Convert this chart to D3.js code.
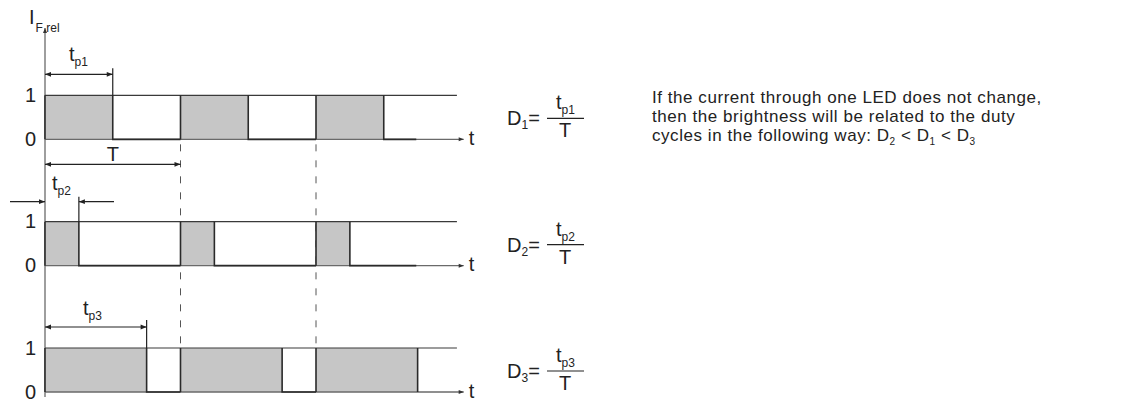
<!DOCTYPE html>
<html lang="en">
<head>
  <meta charset="UTF-8">
  <title>PWM duty cycles</title>
  <script src="https://d3js.org/d3.v7.min.js"></script>
  <style>
    body { margin: 0; background: #fff; }
    svg { display: block; font-family: "Liberation Sans", Arial, Helvetica, sans-serif; }
    .pulse { fill: #c6c6c6; }
    .edge { stroke: #2a2a2a; stroke-width: 1.6; fill: none; }
    .axis-line { stroke: #6a6a6a; stroke-width: 1.3; fill: none; }
    .hi-line { stroke: #3a3a3a; stroke-width: 1.1; }
    .dim { stroke: #222; stroke-width: 1.2; fill: none; }
    .dash { stroke: #555; stroke-width: 1; stroke-dasharray: 7 9; }
  </style>
</head>
<body>
<svg width="1121" height="401"></svg>
<script>
  // one period T = 1, three rows of pulses
  const periods = [0, 1, 2];
  const duties = [0.5, 0.25, 0.75];           // tp1/T, tp2/T, tp3/T
  const rowNames = ["1", "2", "3"];
  const levelLabels = ["0", "1"];
  const signalEnd = 2.74;
  const hiLineEnd = 3.04;
  const axisEnd = 3.09;
  const noteLines = [
    "If the current through one LED does not change,",
    "then the brightness will be related to the duty",
    "cycles in the following way: "
  ];

  const svg = d3.select("svg");
  const defs = svg.append("defs");
  defs.append("marker").attr("id", "ah")
    .attr("viewBox", "0 0 10 10").attr("refX", 10).attr("refY", 5)
    .attr("markerWidth", 13).attr("markerHeight", 6).attr("markerUnits", "userSpaceOnUse")
    .attr("orient", "auto-start-reverse")
    .append("path").attr("d", "M0,1 L10,5 L0,9 Z").attr("fill", "#222");
  defs.append("marker").attr("id", "ahs")
    .attr("viewBox", "0 0 10 10").attr("refX", 10).attr("refY", 5)
    .attr("markerWidth", 8).attr("markerHeight", 5).attr("markerUnits", "userSpaceOnUse")
    .attr("orient", "auto")
    .append("path").attr("d", "M0,1 L10,5 L0,9 Z").attr("fill", "#333");

  const x = d3.scaleLinear().domain([0, 1]).range([45, 180.5]);
  const row = d3.scaleBand().domain(rowNames).range([13, 392]).paddingInner(0).paddingOuter(0);
  // level 0 sits at the bottom of each band
  const rowBase = r => row(r) + row.bandwidth();
  const level = d3.scaleLinear().domain([0, 1]).range([0, -44]);

  const F = "20px", FS = "12px";

  // vertical y axis
  svg.append("line").attr("class", "axis-line")
    .attr("x1", x(0)).attr("x2", x(0)).attr("y1", rowBase("3") + 5).attr("y2", 28)
    .attr("marker-end", "url(#ahs)");
  const yl = svg.append("text").attr("x", 29).attr("y", 24).attr("fill", "#222").style("font-size", F);
  yl.append("tspan").text("I");
  yl.append("tspan").attr("dx", 1).attr("dy", 8).style("font-size", FS).text("F rel");

  // dashed period lines
  [1, 2].forEach(p => {
    svg.append("line").attr("class", "dash")
      .attr("x1", x(p)).attr("x2", x(p))
      .attr("y1", rowBase("1") + 5).attr("y2", rowBase("3") + level(1));
  });

  rowNames.forEach((r, i) => {
    const base = rowBase(r);
    const tp = duties[i];
    const g = svg.append("g").attr("transform", `translate(0,${base})`);

    // gray pulses
    g.selectAll("rect").data(periods).join("rect").attr("class", "pulse")
      .attr("x", d => x(d)).attr("y", level(1))
      .attr("width", d => x(d + tp) - x(d)).attr("height", level(0) - level(1));

    // reference "1" line and time axis
    g.append("line").attr("class", "hi-line")
      .attr("x1", x(0)).attr("x2", x(hiLineEnd)).attr("y1", level(1)).attr("y2", level(1));
    g.append("line").attr("class", "axis-line")
      .attr("x1", x(0)).attr("x2", x(axisEnd)).attr("y1", level(0)).attr("y2", level(0))
      .attr("marker-end", "url(#ahs)");

    // signal edges
    let d = "";
    periods.forEach(p => {
      d += `M${x(p)},${level(0)}V${level(1)}M${x(p + tp)},${level(1)}V${level(0)}`;
      const lowEnd = Math.min(p + 1, signalEnd);
      if (p + tp < lowEnd) d += `H${x(lowEnd)}`;
    });
    g.append("path").attr("class", "edge").attr("d", d);

    // level labels
    g.selectAll("text.lv").data(levelLabels).join("text").attr("class", "lv")
      .attr("x", 36).attr("y", v => level(+v) + 6.5).attr("text-anchor", "end")
      .attr("fill", "#222").style("font-size", F).text(v => v);
    g.append("text").attr("x", x(axisEnd) + 5).attr("y", level(0) + 5.5)
      .attr("fill", "#222").style("font-size", F).text("t");

    // formula D = tp / T
    const fx = 507, fy = level(0) - 21;
    const dt = g.append("text").attr("x", fx).attr("y", fy + 7).attr("fill", "#222").style("font-size", F);
    dt.append("tspan").text("D");
    dt.append("tspan").attr("dy", 4).style("font-size", FS).text(r);
    dt.append("tspan").attr("dy", -4).text("=");
    g.append("line").attr("x1", 547).attr("x2", 584).attr("y1", fy).attr("y2", fy)
      .attr("stroke", "#222").attr("stroke-width", 1.2);
    const nt = g.append("text").attr("x", 556).attr("y", fy - 9).attr("fill", "#222").style("font-size", F);
    nt.append("tspan").text("t");
    nt.append("tspan").attr("dy", 5).style("font-size", FS).text("p" + r);
    g.append("text").attr("x", 565).attr("y", fy + 19).attr("text-anchor", "middle")
      .attr("fill", "#222").style("font-size", F).text("T");
  });

  // tp dimension arrows
  function tpLabel(cx, by, r) {
    const t = svg.append("text").attr("x", cx).attr("y", by).attr("fill", "#222").style("font-size", F);
    t.append("tspan").text("t");
    t.append("tspan").attr("dy", 5).style("font-size", FS).text("p" + r);
  }
  // row 1
  {
    const b = rowBase("1"), tp = duties[0], ay = b + level(1) - 21;
    svg.append("line").attr("class", "dim").attr("x1", x(tp)).attr("x2", x(tp)).attr("y1", ay - 6).attr("y2", b + level(1));
    svg.append("line").attr("class", "dim").attr("x1", x(0)).attr("x2", x(tp))
      .attr("y1", ay).attr("y2", ay).attr("marker-start", "url(#ah)").attr("marker-end", "url(#ah)");
    tpLabel(69, ay - 13, "1");
    // period T
    const ty = b + 25;
    svg.append("line").attr("class", "dim").attr("x1", x(0)).attr("x2", x(1))
      .attr("y1", ty).attr("y2", ty).attr("marker-start", "url(#ah)").attr("marker-end", "url(#ah)");
    svg.append("text").attr("x", x(0.5)).attr("y", ty - 3).attr("text-anchor", "middle")
      .attr("fill", "#222").style("font-size", F).text("T");
  }
  // row 2 (arrows from outside)
  {
    const b = rowBase("2"), tp = duties[1], ay = b + level(1) - 20;
    svg.append("line").attr("class", "dim").attr("x1", x(tp)).attr("x2", x(tp)).attr("y1", ay - 5).attr("y2", b + level(1));
    svg.append("line").attr("class", "dim").attr("x1", 10).attr("x2", x(0))
      .attr("y1", ay).attr("y2", ay).attr("marker-end", "url(#ah)");
    svg.append("line").attr("class", "dim").attr("x1", 114).attr("x2", x(tp))
      .attr("y1", ay).attr("y2", ay).attr("marker-end", "url(#ah)");
    tpLabel(52, ay - 12, "2");
  }
  // row 3
  {
    const b = rowBase("3"), tp = duties[2], ay = b + level(1) - 21;
    svg.append("line").attr("class", "dim").attr("x1", x(tp)).attr("x2", x(tp)).attr("y1", ay - 7).attr("y2", b + level(1));
    svg.append("line").attr("class", "dim").attr("x1", x(0)).attr("x2", x(tp))
      .attr("y1", ay).attr("y2", ay).attr("marker-start", "url(#ah)").attr("marker-end", "url(#ah)");
    tpLabel(83, ay - 12, "3");
  }

  // note text
  const note = svg.append("g").attr("fill", "#222").style("font-size", "17px").style("letter-spacing", "0.55px");
  noteLines.forEach((s, i) => {
    const t = note.append("text").attr("x", 652).attr("y", 103 + i * 19).text(s);
    if (i === 2) {
      [["2", "<"], ["1", "<"], ["3", ""]].forEach(([sub, op]) => {
        t.append("tspan").text("D");
        t.append("tspan").attr("dy", 4).style("font-size", "10px").text(sub);
        t.append("tspan").attr("dy", -4).text(op ? " " + op + " " : "");
      });
    }
  });
</script>
</body>
</html>
